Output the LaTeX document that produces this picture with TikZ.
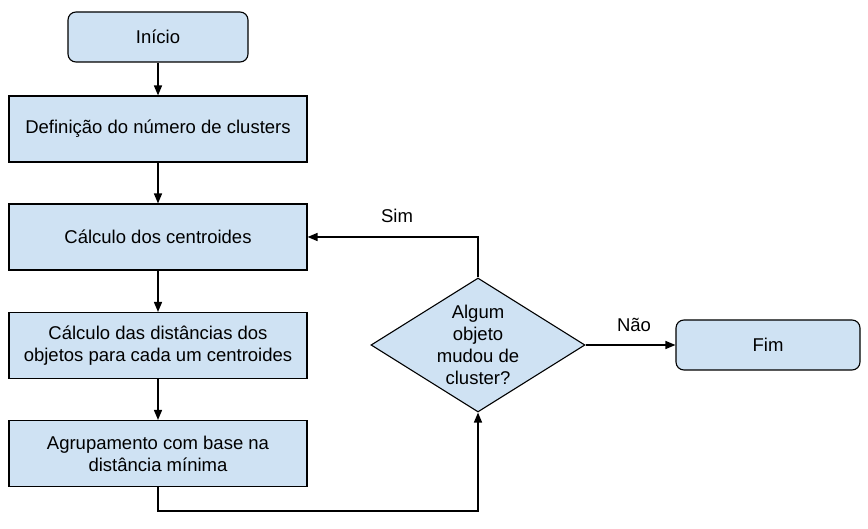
\documentclass[tikz,border=0pt]{standalone}
\usepackage{fontspec}
\setmainfont{Liberation Sans}
\usetikzlibrary{shapes.geometric,arrows.meta}
\definecolor{boxfill}{HTML}{CFE2F3}
\tikzset{
  base/.style={draw=black, fill=boxfill, line width=1.1pt, font=\fontsize{18.5}{22}\selectfont, align=center, inner sep=0pt},
  procbox/.style={base, minimum width=298pt, minimum height=66pt},
  termbox/.style={base, rounded corners=8pt},
  decbox/.style={base, diamond, aspect=1.6, minimum width=214pt, minimum height=134pt},
  conn/.style={line width=1.5pt, -{Triangle[length=10pt,width=8pt]}},
  lbl/.style={font=\fontsize{18.5}{22}\selectfont}
}
\begin{document}
\begin{tikzpicture}[x=1pt,y=-1pt]
\useasboundingbox (0,0) rectangle (868,529);
\node[termbox, minimum width=180pt, minimum height=50pt] (inicio) at (158,37) {Início};
\node[procbox] (def) at (158,129) {Definição do número de clusters};
\node[procbox] (cent) at (158,237) {Cálculo dos centroides};
\node[procbox] (dist) at (158,345.5) {Cálculo das distâncias dos\\objetos para cada um centroides};
\node[procbox] (agr) at (158,453.5) {Agrupamento com base na\\distância mínima};
\node[decbox] (dec) at (478,345) {Algum\\objeto\\mudou de\\cluster?};
\node[termbox, minimum width=184pt, minimum height=50pt] (fim) at (768,345) {Fim};
\coordinate (bl) at (158,511);
\coordinate (br) at (478,511);
\coordinate (tr) at (478,237);
\draw[conn] (inicio) -- (def);
\draw[conn] (def) -- (cent);
\draw[conn] (cent) -- (dist);
\draw[conn] (dist) -- (agr);
\draw[conn] (agr.south) -- (bl) -- (br) -- (dec.south);
\draw[conn] (dec.north) -- (tr) -- (cent.east);
\draw[conn] (dec.east) -- (fim.west);
\node[lbl] (sim) at (397,216) {Sim};
\node[lbl] (nao) at (634,325) {Não};
\end{tikzpicture}
\end{document}
